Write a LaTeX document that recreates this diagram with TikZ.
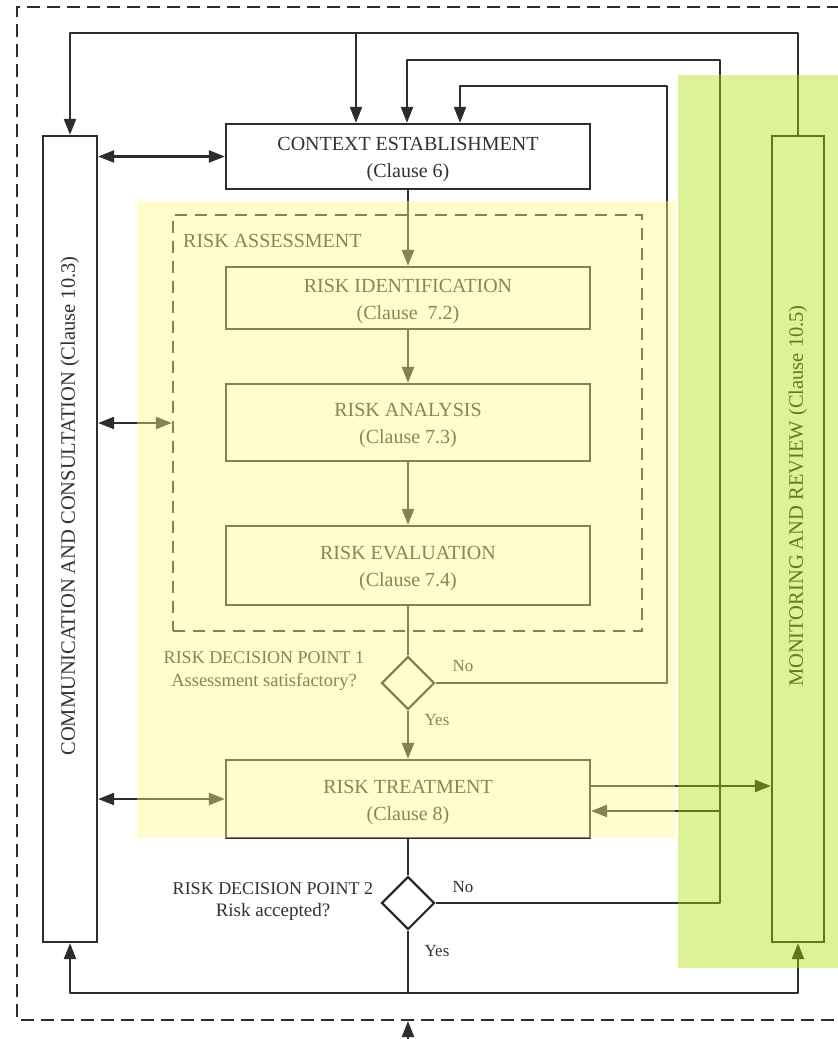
\documentclass[tikz,border=0pt]{standalone}
\usepackage{fontspec}
\setmainfont{Liberation Serif}
\usetikzlibrary{arrows.meta,shapes.geometric}
\definecolor{ink}{RGB}{45,45,45}
\definecolor{txt}{RGB}{50,50,50}
\definecolor{ylw}{RGB}{255,250,140}
\definecolor{grn}{RGB}{174,223,4}
\newcommand{\upstrut}{\rule{0pt}{19.5pt}}
\begin{document}
\begin{tikzpicture}[x=1pt,y=-1pt,
  line/.style={draw=ink,line width=2.2pt,line join=round},
  arr/.style={line,-{Triangle[length=16pt,width=12pt]}},
  darr/.style={line,{Triangle[length=16pt,width=12pt]}-{Triangle[length=16pt,width=12pt]}},
  box/.style={draw=ink,line width=2.2pt,fill=white,minimum width=364pt,align=center,
    text=txt,font=\fontsize{20}{27}\selectfont,inner sep=0pt},
  side/.style={draw=ink,line width=2.2pt,fill=white,inner sep=0pt},
  vtext/.style={rotate=90,text=txt,font=\fontsize{20.5}{24}\selectfont,inner sep=0pt},
  dec/.style={draw=ink,line width=2.2pt,fill=white,diamond,aspect=1,minimum width=53pt,minimum height=53pt,inner sep=0pt},
  yn/.style={text=txt,font=\fontsize{17}{20}\selectfont,inner sep=0pt},
  dlabel/.style={text=txt,align=center,inner sep=0pt},
  outerdash/.style={draw=ink,line width=2.2pt,dash pattern=on 13pt off 7pt},
  radash/.style={draw=ink,line width=2.2pt,dash pattern=on 12pt off 8pt}
]
\useasboundingbox (0,0) rectangle (838,1039);
\clip (0,0) rectangle (838,1039);
\fill[white] (0,0) rectangle (838,1039);

% outer dashed frame
\draw[outerdash] (860,7) -- (17,7) -- (17,1020) -- (860,1020);

% side boxes
\node[side,minimum width=54pt,minimum height=806pt] (comm) at (70,539) {};
\node[vtext] (commt) at (70,506) {COMMUNICATION AND CONSULTATION (Clause 10.3)};
\node[side,minimum width=52pt,minimum height=806pt] (mon) at (798,539) {};
\node[vtext] (mont) at (798,496) {MONITORING AND REVIEW (Clause 10.5)};

% main boxes
\node[box,minimum height=65pt] (ctx) at (408,156.5) {\upstrut CONTEXT ESTABLISHMENT\\(Clause 6)};
\node[radash,minimum width=469pt,minimum height=416pt,inner sep=0pt] (ra) at (407.5,423) {};
\node[anchor=west,text=txt,font=\fontsize{20}{24}\selectfont,inner sep=0pt] (ralab) at (183,241) {RISK ASSESSMENT};
\node[box,minimum height=62pt] (rid) at (408,298) {\upstrut RISK IDENTIFICATION\\(Clause\ \ 7.2)};
\node[box,minimum height=77pt] (ran) at (408,422.5) {\upstrut RISK ANALYSIS\\(Clause 7.3)};
\node[box,minimum height=79pt] (rev) at (408,565.5) {\upstrut RISK EVALUATION\\(Clause 7.4)};
\node[box,minimum height=78pt] (rt) at (408,799) {\upstrut RISK TREATMENT\\(Clause 8)};

% decisions
\node[dec] (d1) at (408,683) {};
\node[dec] (d2) at (408,903) {};
\node[dlabel,font=\fontsize{18}{23}\selectfont] (d1t) at (264,671.5) {RISK DECISION POINT 1\\{\fontsize{18.5}{23}\selectfont Assessment satisfactory?}};
\node[dlabel,font=\fontsize{18}{21.5}\selectfont] (d2t) at (273,901.5) {RISK DECISION POINT 2\\{\fontsize{19}{21.5}\selectfont Risk accepted?}};
\node[yn] (no1) at (463,666) {No};
\node[yn] (yes1) at (437,720) {Yes};
\node[yn] (no2) at (463,887) {No};
\node[yn] (yes2) at (437,951) {Yes};

% coordinates
\coordinate (t1) at (356,33);
\coordinate (jb) at (408,993);
\coordinate (r2) at (720,903);
\coordinate (r1) at (667,683);
\coordinate (inc) at (408,1050);
\coordinate (incend) at (408,1021);

% main flow
\draw[arr] (ctx.south) -- (rid.north);
\draw[arr] (rid.south) -- (ran.north);
\draw[arr] (ran.south) -- (rev.north);
\draw[line] (rev.south) -- (d1.north);
\draw[arr] (d1.south) -- (rt.north);
\draw[line] (rt.south) -- (d2.north);
\draw[line] (d2.south) -- (jb);
\draw[arr] (jb) -| (comm.south);
\draw[arr] (jb) -| (mon.south);

% top feedback from monitoring
\draw[arr] (mon.north) |- (t1) -| (comm.north);
\draw[arr] (t1) -- (t1 |- ctx.north);

% decision 2 "No" loop
\draw[arr] (d2.east) -- (r2) |- ([xshift=-1pt]ctx.north |- 0,60) -- ([xshift=-1pt]ctx.north);
\draw[arr] (r2 |- 0,811) -- (rt.east |- 0,811);

% decision 1 "No" loop
\draw[arr] (d1.east) -- (r1) |- ([xshift=52pt]ctx.north |- 0,86) -- ([xshift=52pt]ctx.north);

% treatment to monitoring
\draw[arr] (rt.east |- 0,786) -- (mon.west |- 0,786);

% communication links
\draw[darr] (comm.east |- ctx.west) -- (ctx.west);
\draw[darr] (comm.east |- ra.west) -- (ra.west);
\draw[darr] (comm.east |- rt.west) -- (rt.west);

% incoming arrow
\draw[arr] (inc) -- (incend);

% overlays
\fill[ylw,fill opacity=0.42] (137,201) rectangle (675,838);
\fill[grn,fill opacity=0.41] (678,75) rectangle (845,968);
\end{tikzpicture}
\end{document}
